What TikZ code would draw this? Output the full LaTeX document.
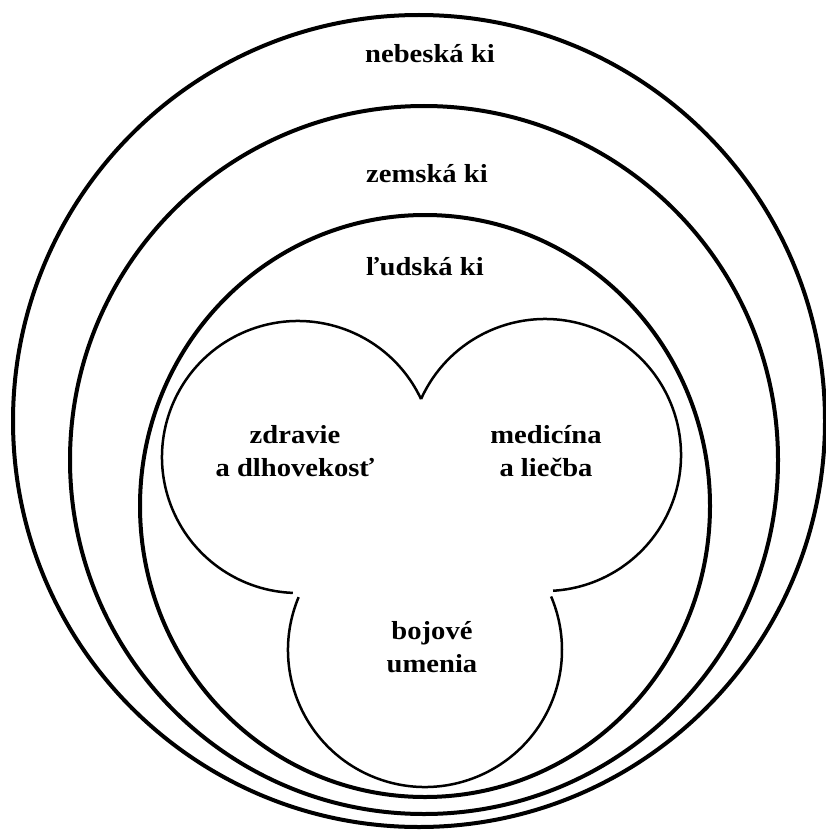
\documentclass[tikz,border=0pt]{standalone}
\usepackage{fontspec}
\setmainfont{Liberation Serif}[FakeStretch=1.1]

\begin{document}
\begin{tikzpicture}[
    x=1pt, y=-1pt,
    every node/.style={font=\fontsize{26}{33}\selectfont\bfseries, inner sep=0pt, align=center},
    ring/.style={line width=4pt},
    lobe/.style={line width=2.5pt}
]
\useasboundingbox (0,0) rectangle (826,832);
% centres of the rings and of the three lobes
\coordinate (heaven) at (419,421);
\coordinate (earth)  at (424,460);
\coordinate (human)  at (425,506);
\coordinate (lobeL)  at (298,457);
\coordinate (lobeR)  at (545,455);
\coordinate (lobeB)  at (425,650);
% rings
\draw[ring] (heaven) circle[radius=406];
\draw[ring] (earth)  circle[radius=354];
\draw[ring] (human)  ellipse[x radius=285, y radius=291];
% trefoil
\draw[lobe] (lobeL) ++(-25.2:136) arc[start angle=-25.2, end angle=-267.8, radius=136];
\draw[lobe] (lobeR) ++(-155.7:136) arc[start angle=-155.7, end angle=86.6, radius=136];
\draw[lobe] (lobeB) ++(202.7:137) arc[start angle=202.7, end angle=-23, radius=137];
% labels
\node[anchor=base] (heavenki) at (430,63)  {nebeská ki};
\node[anchor=base] (earthki)  at (427,182) {zemská ki};
\node[anchor=base] (humanki)  at (425,275) {ľudská ki};
\node (health)   at (295,451) {zdravie\\a dlhovekosť};
\node (medicine) at (546,451) {medicína\\a liečba};
\node (martial)  at (432,647) {bojové\\umenia};
\end{tikzpicture}
\end{document}
